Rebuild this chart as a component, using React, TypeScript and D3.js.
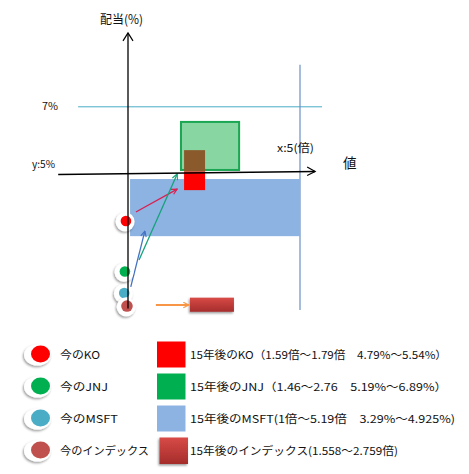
import { useEffect, useRef } from "react";
import * as d3 from "d3";

// series (legend order)
const SERIES = ["KO", "JNJ", "MSFT", "IDX"];
const NOW_LABELS = ["今のKO", "今のJNJ", "今のMSFT", "今のインデックス"];
const FUTURE_LABELS = [
  "15年後のKO（1.59倍～1.79倍　4.79%～5.54%）",
  "15年後のJNJ（1.46～2.76　5.19%～6.89%）",
  "15年後のMSFT(1倍～5.19倍　3.29%～4.925%)",
  "15年後のインデックス(1.558～2.759倍)",
];
const NOW_COLORS = ["#ff0000", "#00b050", "#4bacc6", "#c0504d"];

// "now" dots, in chart units (x: 倍, y: %)
const NOW_X = [-0.06, -0.09, -0.11, -0.03];
const NOW_Y = [3.6, 2.1, 1.46, 1.07];

// "15 years later" boxes, drawn back to front
const BOX_NAMES = ["MSFT", "JNJ", "IDX", "KO"];
const BOX_X0 = [0.06, 1.54, 1.63, 1.63];
const BOX_X1 = [5.0, 3.23, 2.24, 2.24];
const BOX_Y0 = [3.15, 5.12, 5.07, 4.52];
const BOX_Y1 = [4.85, 6.55, 5.71, 5.07];

// arrows: from (x0,y0) to (x1,y1)
const ARROW_NAMES = ["KO", "JNJ", "MSFT", "IDX"];
const ARROW_X0 = [0.23, 0.32, 0.08, 0.81];
const ARROW_Y0 = [3.87, 2.44, 1.64, 1.1];
const ARROW_X1 = [1.43, 1.43, 0.49, 1.77];
const ARROW_Y1 = [4.55, 5.0, 3.3, 1.1];

// index result bar
const IDX_BAR = { x0: 1.8, x1: 3.08, y0: 0.9, y1: 1.32 };

// reference lines
const REF_Y = 7; // 7%
const REF_X = 5; // x:5(倍)

const FONT = "'Noto Sans CJK JP', 'Noto Sans', sans-serif";

export default function App() {
  const ref = useRef<SVGSVGElement>(null);
  useEffect(() => {
    const el = ref.current;
    if (!el) return;
    const W = 469, H = 474;
    const svg = d3.select(el).attr("width", W).attr("height", H).attr("viewBox", `0 0 ${W} ${H}`);
    svg.selectAll("*").remove();

    const x = d3.scaleLinear().domain([0, 5]).range([128, 300]);
    const y = d3.scaleLinear().domain([5, 7]).range([174, 106.8]);

    const defs = svg.append("defs");
    const sh = defs.append("filter").attr("id", "sh").attr("x", "-50%").attr("y", "-50%").attr("width", "200%").attr("height", "200%");
    sh.append("feDropShadow").attr("dx", -1).attr("dy", 1.5).attr("stdDeviation", 1.3).attr("flood-color", "#000").attr("flood-opacity", 0.4);
    const gr = defs.append("linearGradient").attr("id", "idxg").attr("x1", 0).attr("y1", 0).attr("x2", 0).attr("y2", 1);
    gr.append("stop").attr("offset", "0%").attr("stop-color", "#d84a47");
    gr.append("stop").attr("offset", "100%").attr("stop-color", "#a52d2b");

    const arrowColor: Record<string, string> = { KO: "#d9204f", JNJ: "#16a27a", MSFT: "#4472c4", IDX: "#f79646" };
    Object.entries(arrowColor).forEach(([k, c]) => {
      defs.append("marker").attr("id", `m-${k}`).attr("viewBox", "0 0 10 10").attr("refX", 9).attr("refY", 5)
        .attr("markerWidth", 7).attr("markerHeight", 7).attr("markerUnits", "userSpaceOnUse").attr("orient", "auto")
        .append("path").attr("d", "M1,1 L9,5 L1,9").attr("fill", "none").attr("stroke", c).attr("stroke-width", 1.6);
    });

    // 7% line and x=5 line
    svg.append("line").attr("x1", x(-1.45)).attr("x2", x(5.64)).attr("y1", y(REF_Y)).attr("y2", y(REF_Y)).attr("stroke", "#4bacc6").attr("stroke-width", 1);
    svg.append("line").attr("x1", x(REF_X)).attr("x2", x(REF_X)).attr("y1", y(8.25)).attr("y2", y(0.95)).attr("stroke", "#6a8fc4").attr("stroke-width", 1.2);

    // boxes
    const boxStyle: Record<string, { fill: string; stroke?: string }> = {
      MSFT: { fill: "#8db3e2" },
      JNJ: { fill: "#88d6a2", stroke: "#1aa653" },
      IDX: { fill: "#8a5a2c" },
      KO: { fill: "#ff0000" },
    };
    BOX_NAMES.forEach((n, i) => {
      const s = boxStyle[n];
      svg.append("rect").attr("x", x(BOX_X0[i])).attr("y", y(BOX_Y1[i]))
        .attr("width", x(BOX_X1[i]) - x(BOX_X0[i])).attr("height", y(BOX_Y0[i]) - y(BOX_Y1[i]))
        .attr("fill", s.fill).attr("stroke", s.stroke ?? "none").attr("stroke-width", 2);
    });

    // index result bar
    svg.append("rect").attr("x", x(IDX_BAR.x0)).attr("y", y(IDX_BAR.y1))
      .attr("width", x(IDX_BAR.x1) - x(IDX_BAR.x0)).attr("height", y(IDX_BAR.y0) - y(IDX_BAR.y1))
      .attr("fill", "url(#idxg)").attr("filter", "url(#sh)");

    // arrows
    ARROW_NAMES.forEach((n, i) => {
      svg.append("line").attr("x1", x(ARROW_X0[i])).attr("y1", y(ARROW_Y0[i]))
        .attr("x2", x(ARROW_X1[i])).attr("y2", y(ARROW_Y1[i]))
        .attr("stroke", arrowColor[n]).attr("stroke-width", n === "IDX" ? 2 : 1.3)
        .attr("marker-end", `url(#m-${n})`);
    });

    // "now" dots with white halo (lower ones sit on top)
    SERIES.forEach((_s, i) => {
      const cx = x(NOW_X[i]), cy = y(NOW_Y[i]);
      svg.append("circle").attr("cx", cx - 0.8).attr("cy", cy + 0.8).attr("r", 9.5).attr("fill", "#fff").attr("filter", "url(#sh)");
      svg.append("circle").attr("cx", cx).attr("cy", cy).attr("r", i === 3 ? 5.8 : 5.3).attr("fill", NOW_COLORS[i]);
    });

    // axes
    svg.append("line").attr("x1", x(0)).attr("x2", x(0)).attr("y1", y(1.0)).attr("y2", y(9.2)).attr("stroke", "#000").attr("stroke-width", 1.3);
    svg.append("path").attr("d", `M${x(0) - 5},${y(9.2) + 8} L${x(0)},${y(9.2)} L${x(0) + 5},${y(9.2) + 8}`).attr("fill", "none").attr("stroke", "#000").attr("stroke-width", 1.2);
    const ax0 = [x(-2.03), y(4.985)], ax1 = [x(5.44), y(5.074)];
    svg.append("line").attr("x1", ax0[0]).attr("y1", ax0[1]).attr("x2", ax1[0]).attr("y2", ax1[1]).attr("stroke", "#000").attr("stroke-width", 1.3);
    svg.append("path").attr("d", `M${ax1[0] - 8},${ax1[1] - 4.5} L${ax1[0]},${ax1[1]} L${ax1[0] - 8},${ax1[1] + 4}`).attr("fill", "none").attr("stroke", "#000").attr("stroke-width", 1.2);

    // axis texts
    const txt = (tx: number, ty: number, s: string, size: number, len?: number) => {
      const t = svg.append("text").attr("x", tx).attr("y", ty).attr("font-size", size).attr("font-family", FONT).attr("fill", "#111").text(s);
      if (len) t.attr("textLength", len).attr("lengthAdjust", "spacingAndGlyphs");
      return t;
    };
    txt(100, 24, "配当(%)", 12.5, 43);
    txt(42, 110, "7%", 10, 16);
    txt(32, 168, "y:5%", 10, 23);
    txt(277, 152, "x:5(倍)", 11, 37);
    txt(343, 168, "値", 13.5);

    // legend
    const row = d3.scalePoint<string>().domain(SERIES).range([354, 450]);
    const FUT_LEN = [257, 257, 265, 208];
    const NOW_LEN = [40, 48, 58, 89];
    const sqFill = ["#ff0000", "#00b050", "#8db3e2", "url(#idxg)"];
    SERIES.forEach((s, i) => {
      const cy = row(s) ?? 0;
      svg.append("ellipse").attr("cx", 37.5).attr("cy", cy + 1).attr("rx", 13.5).attr("ry", 10.5).attr("fill", "#fff").attr("filter", "url(#sh)");
      svg.append("ellipse").attr("cx", 40.5).attr("cy", cy).attr("rx", 9.5).attr("ry", 8.5).attr("fill", NOW_COLORS[i]);
      txt(60, cy + 4.5, NOW_LABELS[i], 11, NOW_LEN[i]);
      const r = svg.append("rect").attr("x", i === 3 ? 159.5 : 157).attr("y", cy - 12.5).attr("width", 28.5).attr("height", i === 3 ? 26.5 : 26).attr("fill", sqFill[i]);
      if (i === 3) r.attr("filter", "url(#sh)");
      txt(190, cy + 4.5, FUTURE_LABELS[i], 11, FUT_LEN[i]);
    });
  }, []);
  return <svg ref={ref} style={{ position: "absolute", left: 0, top: 0, background: "#fff" }} />;
}
